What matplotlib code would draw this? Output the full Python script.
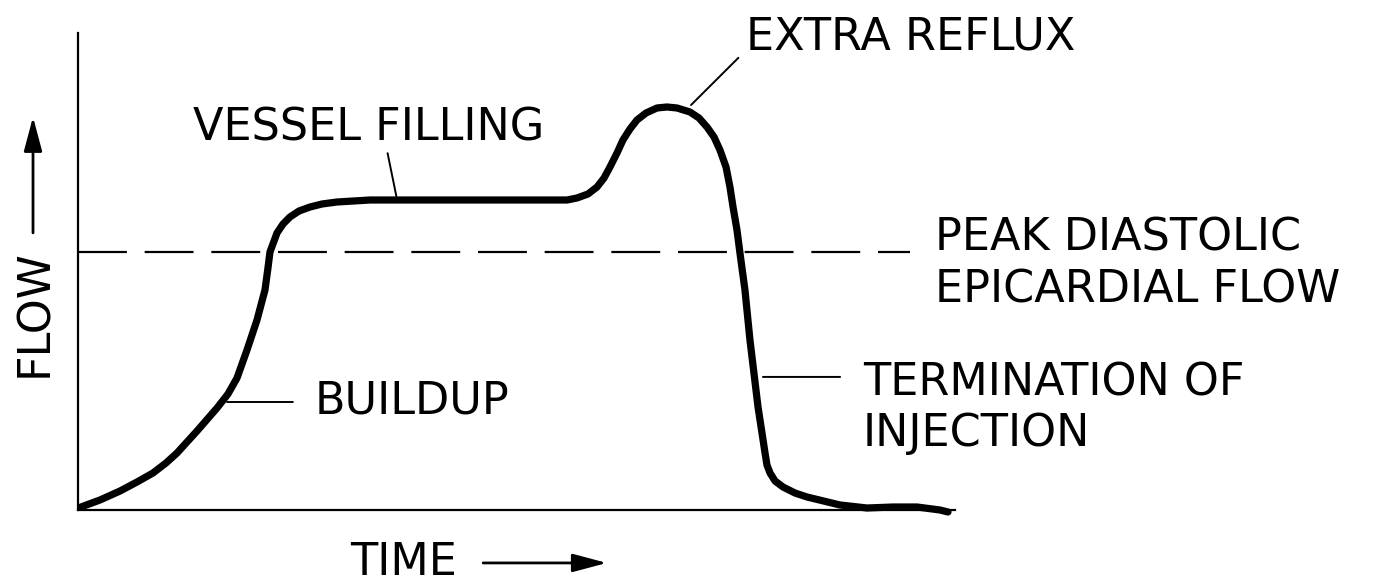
import matplotlib
matplotlib.use("Agg")
import matplotlib.pyplot as plt

# --- curve (time and flow in arbitrary 0-100 units) ---
time = [0.34, 2.51, 4.79, 6.73, 8.55, 10.03, 11.29, 13.57, 15.85, 17.10,
        18.13, 19.27, 20.41, 21.32, 21.66, 21.89, 22.69, 23.38, 24.17,
        25.20, 26.45, 27.82, 29.53, 33.30, 55.76, 56.90, 58.15, 59.18,
        59.98, 60.66, 61.46, 62.14, 62.94, 63.74, 64.77, 66.02, 67.16,
        68.30, 69.78, 70.81, 71.72, 72.52, 73.20, 73.89, 74.34, 74.69,
        75.14, 75.48, 76.05, 76.62, 77.54, 78.34, 78.56, 78.91, 79.48,
        80.39, 81.76, 83.12, 86.89, 89.97, 92.93, 95.67, 98.29, 99.20]
flow = [0.63, 2.10, 3.98, 5.87, 7.76, 9.85, 11.95, 16.56, 21.38, 24.32,
        27.67, 33.54, 39.83, 46.12, 50.73, 54.09, 58.07, 59.96, 61.43,
        62.68, 63.52, 64.15, 64.57, 64.99, 64.99, 65.41, 66.25, 67.71,
        69.60, 71.91, 74.84, 77.57, 79.87, 81.76, 83.23, 84.28, 84.49,
        84.28, 83.44, 82.18, 80.29, 78.20, 75.47, 71.91, 67.71, 63.52,
        58.70, 53.88, 46.12, 35.64, 21.59, 11.95, 9.43, 7.76, 6.08,
        4.82, 3.56, 2.73, 1.05, 0.42, 0.63, 0.63, 0.00, -0.42]

peak_diastolic_flow = 54.0

x_label = "TIME"
y_label = "FLOW"
label_vessel = "VESSEL FILLING"
label_buildup = "BUILDUP"
label_reflux = "EXTRA REFLUX"
label_peak = ["PEAK DIASTOLIC", "EPICARDIAL FLOW"]
label_term = ["TERMINATION OF", "INJECTION"]

W, H = 1374, 584
fig = plt.figure(figsize=(W / 100, H / 100), dpi=100)
ax = fig.add_axes([78 / W, (H - 510) / H, (955 - 78) / W, (510 - 33) / H])
ax.set_xlim(0, 100)
ax.set_ylim(0, 100)

for s in ("top", "right"):
    ax.spines[s].set_visible(False)
for s in ("left", "bottom"):
    ax.spines[s].set_linewidth(1.6)
ax.set_xticks([])
ax.set_yticks([])

# main flow curve
ax.plot(time, flow, color="black", lw=5.2, solid_capstyle="round",
        solid_joinstyle="round", clip_on=False)

# peak diastolic epicardial flow reference line
ax.plot([0, 94.9], [peak_diastolic_flow, peak_diastolic_flow], color="black",
        lw=1.6, linestyle=(0, (22, 8)), clip_on=False)

fs = 32
txt = dict(fontsize=fs, family="DejaVu Sans", color="black",
           ha="left", va="baseline")
lead = dict(arrowstyle="-", color="black", lw=1.4, shrinkA=0, shrinkB=0)
arrow = dict(arrowstyle="-|>,head_length=1.05,head_width=0.28",
             color="black", lw=2, mutation_scale=20, shrinkA=0, shrinkB=0)

ax.text(13.1, 77.4, label_vessel, **txt)
ax.annotate("", xy=(36.3, 65.8), xytext=(35.3, 74.8), arrowprops=lead)

ax.text(27.0, 20.3, label_buildup, **txt)
ax.annotate("", xy=(17.0, 22.64), xytext=(24.5, 22.64), arrowprops=lead)

ax.text(76.2, 96.6, label_reflux, **txt)
ax.annotate("", xy=(69.9, 84.9), xytext=(75.3, 94.8), arrowprops=lead,
            annotation_clip=False)

ax.text(97.7, 54.3, label_peak[0], **txt)
ax.text(97.7, 43.6, label_peak[1], **txt)

ax.text(89.5, 23.9, label_term[0], **txt)
ax.text(89.5, 13.4, label_term[1], **txt)
ax.annotate("", xy=(78.1, 27.9), xytext=(86.9, 27.9), arrowprops=lead)

# axis labels with arrows
ax.text(31.0, -13.6, x_label, **txt)
ax.annotate("", xy=(60.3, -11.1), xytext=(46.2, -11.1),
            annotation_clip=False, arrowprops=arrow)

ax.text(-4.96, 41.3, y_label, rotation=90, fontsize=fs, family="DejaVu Sans",
        color="black", ha="center", va="center")
ax.annotate("", xy=(-5.13, 82.4), xytext=(-5.13, 58.1),
            annotation_clip=False, arrowprops=arrow)

fig.savefig("out.png", dpi=100, facecolor="white")
